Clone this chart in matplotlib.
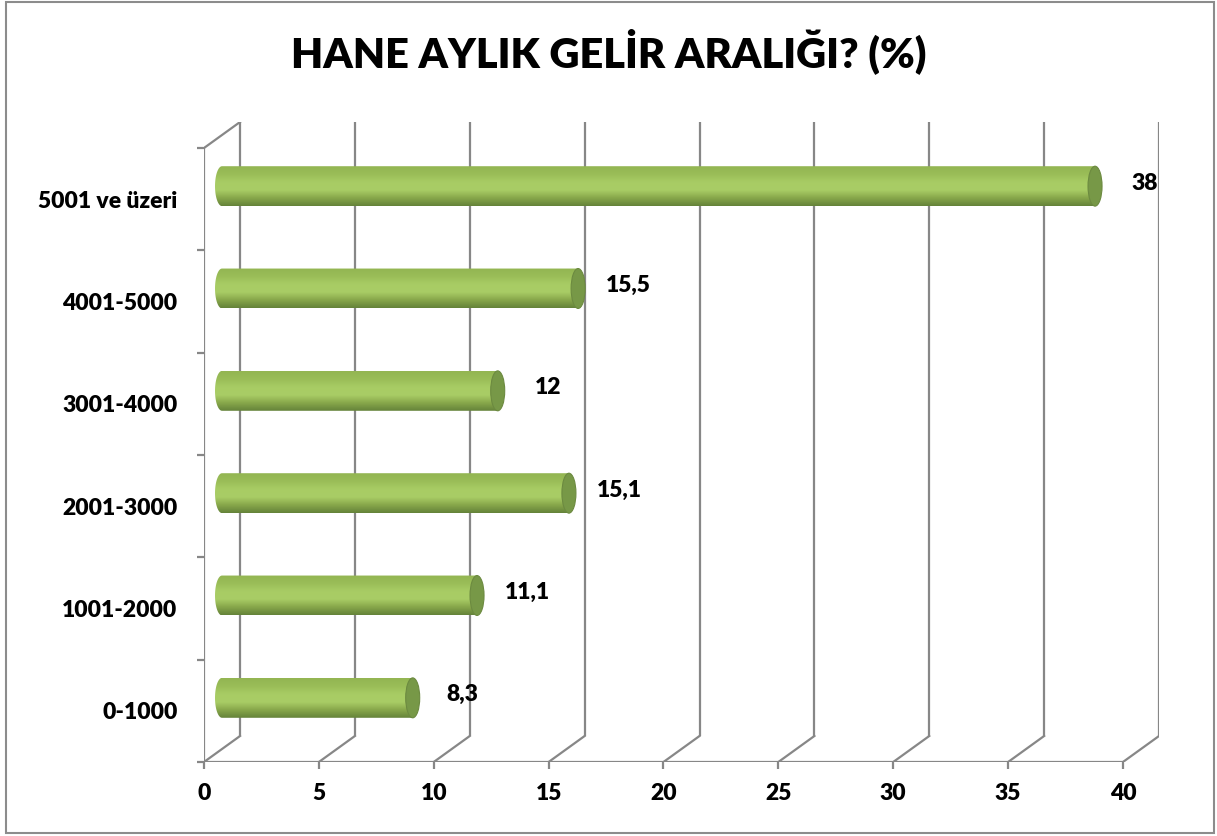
import numpy as np
import matplotlib
matplotlib.use("Agg")
import matplotlib.pyplot as plt
from matplotlib.patches import Ellipse, Rectangle, PathPatch
from matplotlib.path import Path
from matplotlib.colors import LinearSegmentedColormap

categories = ["0-1000", "1001-2000", "2001-3000", "3001-4000", "4001-5000", "5001 ve üzeri"]
values = [8.3, 11.1, 15.1, 12, 15.5, 38]
value_labels = ["8,3", "11,1", "15,1", "12", "15,5", "38"]
xticks = [0, 5, 10, 15, 20, 25, 30, 35, 40]

plt.rcParams['font.family'] = ['Lato', 'DejaVu Sans']
WEIGHT = 'heavy'

W, H = 1217, 836
dpi = 100
fig = plt.figure(figsize=(W / dpi, H / dpi), dpi=dpi)

# axes box in pixels: front x=0 at 204, back x=40 at 1159; front floor 762, back top 122
left, right, bottom, top = 204, 1159, 762, 122
ax = fig.add_axes([left / W, 1 - bottom / H, (right - left) / W, (bottom - top) / H])

px_per_unit = (1122 - 204) / 40.0
px_per_cat = (762 - 148) / 6.0
dx = 36 / px_per_unit          # depth offset in x units
dy = 26 / px_per_cat           # depth offset in category units
xmax = 40 + dx
ymax = 5.5 + dy

grid_col = "#878787"
lw = 1.6

# back wall gridlines and floor diagonals
for t in xticks:
    ax.plot([t + dx, t + dx], [-0.5 + dy, 5.5 + dy], color=grid_col, lw=lw, zorder=1, solid_capstyle='butt')
    ax.plot([t, t + dx], [-0.5, -0.5 + dy], color=grid_col, lw=lw, zorder=1)
# front floor and left wall
ax.plot([0, 40], [-0.5, -0.5], color=grid_col, lw=lw, zorder=1)
ax.plot([0, 0], [-0.5, 5.5], color=grid_col, lw=lw, zorder=1)
ax.plot([0, dx], [5.5, 5.5 + dy], color=grid_col, lw=lw, zorder=1)

# cylinder bars
body_cmap = LinearSegmentedColormap.from_list(
    "cyl", ["#65833a", "#88a84b", "#a9cd66", "#a8cc64", "#9abd58", "#93b552"])
bar_h = 0.39
a = 7 / px_per_unit  # half width of end ellipse
for i, v in enumerate(values):
    c = i + dy / 2
    x0 = dx / 2
    x1 = x0 + v
    yb, yt = c - bar_h / 2, c + bar_h / 2
    th = np.linspace(np.pi / 2, 3 * np.pi / 2, 40)
    arc = np.column_stack([x0 + a * np.cos(th), c + bar_h / 2 * np.sin(th)])
    verts = np.vstack([[x1, yt], arc, [x1, yb], [x1, yt]])
    codes = [Path.MOVETO] + [Path.LINETO] * (len(verts) - 2) + [Path.CLOSEPOLY]
    patch = PathPatch(Path(verts, codes), facecolor="none", edgecolor="none", zorder=3)
    ax.add_patch(patch)
    grad = np.linspace(0, 1, 64).reshape(-1, 1)
    im = ax.imshow(grad, cmap=body_cmap, aspect='auto', origin='lower',
                   extent=[x0 - a, x1, yb, yt], zorder=3, interpolation='bilinear')
    im.set_clip_path(patch)
    ax.add_patch(Ellipse((x1, c), 2 * a, bar_h, facecolor="#779847", edgecolor="#6c8a40",
                         lw=0.8, zorder=4))
    ax.text(x1 + a + 43 / px_per_unit, c + 3 / px_per_cat, value_labels[i],
            ha='center', va='center', fontsize=16.5, fontweight=WEIGHT, zorder=5)

ax.set_xlim(0, xmax)
ax.set_ylim(-0.5, ymax)
for s in ax.spines.values():
    s.set_visible(False)

ax.set_xticks(xticks)
ax.set_xticklabels([str(t) for t in xticks], fontsize=16.5, fontweight=WEIGHT)
ax.tick_params(axis='x', length=5, width=lw, color=grid_col, pad=10)

ax.set_yticks(np.arange(-0.5, 6, 1.0))
ax.set_yticklabels([])
ax.set_yticks(np.arange(6), minor=True)
ax.set_yticklabels(categories, minor=True, fontsize=16.5, fontweight=WEIGHT)
ax.tick_params(axis='y', which='major', length=5, width=lw, color=grid_col)
ax.tick_params(axis='y', which='minor', length=0, pad=19)

fig.text(609 / W, 1 - 67 / H, "HANE AYLIK GELİR ARALIĞI? (%)", ha='center', va='baseline',
         fontsize=30, fontweight=WEIGHT)

fig.patches.append(Rectangle((6 / W, 3 / H), 1208 / W, 831 / H, transform=fig.transFigure,
                             fill=False, edgecolor="#8c8c8c", lw=1.5))

fig.savefig("out.png", dpi=dpi, facecolor="white")
